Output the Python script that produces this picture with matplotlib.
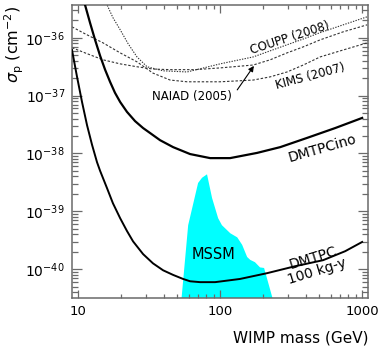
import numpy as np
import matplotlib
matplotlib.use("Agg")
import matplotlib.pyplot as plt
from matplotlib.ticker import LogLocator, FixedLocator, NullFormatter

# WIMP mass (GeV) and log10(sigma_p / cm^2)
ino_mass = [11.2, 12.15, 13.18, 14.3, 15.5, 16.8, 18.2, 19.8, 22.1, 25.2, 28.7, 32.1,
            37.8, 46.7, 61.5, 85.1, 117.5, 182, 265, 410, 646, 1000]
ino_logs = [-35.43, -35.74, -36.035, -36.31, -36.55, -36.76, -36.95, -37.11, -37.28,
            -37.44, -37.56, -37.645, -37.77, -37.89, -38.01, -38.08, -38.08, -37.99,
            -37.89, -37.73, -37.56, -37.385]

full_mass = [9.07, 9.84, 10.67, 11.57, 12.55, 13.6, 14.3, 16.0, 17.6, 19.8, 22.1, 24.4,
             28.7, 33.7, 39.7, 46.7, 54.9, 61.5, 72.3, 92.2, 138, 214, 337, 531, 759, 1000]
full_logs = [-36.21, -36.675, -37.11, -37.51, -37.85, -38.15, -38.30, -38.60, -38.86,
             -39.12, -39.34, -39.52, -39.74, -39.90, -40.02, -40.10, -40.17, -40.21,
             -40.225, -40.225, -40.17, -40.07, -39.95, -39.845, -39.69, -39.53]

kims_mass = [9.07, 11.2, 15.0, 19.8, 26.0, 33.7, 44.5, 58.6, 100, 171, 225, 296, 385,
             506, 735, 1084]
kims_logs = [-35.81, -35.93, -36.087, -36.26, -36.415, -36.61, -36.73, -36.76, -36.76,
             -36.73, -36.675, -36.59, -36.47, -36.33, -36.21, -36.087]

naiad_mass = [9.07, 11.2, 15.0, 19.8, 26.0, 33.7, 44.5, 66.7, 100, 171, 225, 296, 385,
              506, 735, 1084]
naiad_logs = [-36.17, -36.26, -36.38, -36.45, -36.50, -36.54, -36.55, -36.55, -36.52,
              -36.47, -36.38, -36.26, -36.156, -36.035, -35.896, -35.775]

coupp_mass = [15.6, 16.0, 17.6, 19.8, 22.5, 26.0, 30.6, 39.7, 58.6, 100, 171, 225, 296,
              385, 506, 735, 1084]
coupp_logs = [-35.35, -35.43, -35.65, -35.86, -36.10, -36.33, -36.50, -36.57, -36.59,
              -36.45, -36.33, -36.225, -36.12, -36.02, -35.91, -35.775, -35.636]

mssm_mass = [53.1, 59.6, 70.0, 74.6, 80.9, 87.8, 96.9, 103, 118, 132, 143, 155, 163,
             176, 191, 204, 240]
mssm_logs = [-40.6, -39.24, -38.51, -38.42, -38.36, -38.77, -39.12, -39.24, -39.38,
             -39.45, -39.58, -39.79, -39.84, -39.88, -39.97, -39.98, -40.6]

x_ticks = [10, 100, 1000]
x_labels = ["10", "100", "1000"]
y_exps = [-40, -39, -38, -37, -36]

gray = "#6a6a6a"

fig = plt.figure(figsize=(3.81, 3.49), dpi=100)
ax = fig.add_axes([0.189, 0.146, 0.777, 0.840])

ax.fill(mssm_mass, 10.0 ** np.array(mssm_logs), color="#00ffff", lw=0, zorder=1)

ax.plot(ino_mass, 10.0 ** np.array(ino_logs), color="black", lw=1.6, zorder=3)
ax.plot(full_mass, 10.0 ** np.array(full_logs), color="black", lw=1.4, zorder=3)
ax.plot(kims_mass, 10.0 ** np.array(kims_logs), color="#333333", lw=0.8,
        dashes=(2.2, 1.6), zorder=2)
ax.plot(naiad_mass, 10.0 ** np.array(naiad_logs), color="#333333", lw=0.8,
        dashes=(2.2, 1.6), zorder=2)
ax.plot(coupp_mass, 10.0 ** np.array(coupp_logs), color="#333333", lw=0.8,
        dashes=(1.2, 1.2), zorder=2)

ax.set_xscale("log")
ax.set_yscale("log")
ax.set_xlim(9.07, 1100)
ax.set_ylim(10 ** -40.50, 10 ** -35.43)

ax.xaxis.set_major_locator(FixedLocator(x_ticks))
ax.set_xticklabels(x_labels)
ax.xaxis.set_minor_locator(LogLocator(base=10, subs=np.arange(2, 10), numticks=20))
ax.xaxis.set_minor_formatter(NullFormatter())
ax.yaxis.set_major_locator(FixedLocator([10.0 ** e for e in y_exps]))
ax.set_yticklabels([r"$10^{%d}$" % e for e in y_exps])
ax.yaxis.set_minor_locator(LogLocator(base=10, subs=np.arange(2, 10), numticks=20))
ax.yaxis.set_minor_formatter(NullFormatter())

ax.tick_params(which="both", direction="in", top=True, right=True, color=gray, width=0.9)
ax.tick_params(axis="x", which="major", length=6, labelsize=9.5, pad=5)
ax.tick_params(axis="x", which="minor", length=3)
ax.tick_params(axis="y", which="major", length=7.5, labelsize=10, pad=5)
ax.tick_params(axis="y", which="minor", length=4.5)
for s in ax.spines.values():
    s.set_color(gray)
    s.set_linewidth(1.1)

ax.set_xlabel("WIMP mass (GeV)", fontsize=11, loc="right", labelpad=9)
ax.set_ylabel(r"$\sigma_{\rm p}$ (cm$^{-2}$)", fontsize=11.5)
ax.yaxis.set_label_coords(-0.155, 0.865)

ax.text(311, 10 ** -36.0, "COUPP (2008)", fontsize=8.5, rotation=18,
        ha="center", va="center")
ax.text(430, 10 ** -36.66, "KIMS (2007)", fontsize=8.5, rotation=15,
        ha="center", va="center")
ax.text(63.5, 10 ** -37.02, "NAIAD (2005)", fontsize=8.5, ha="center", va="center")
ax.annotate("", xy=(173, 10 ** -36.485), xytext=(132, 10 ** -36.90),
            arrowprops=dict(arrowstyle="-|>", color="black", lw=0.8,
                            mutation_scale=8, shrinkA=0, shrinkB=0))
ax.text(523, 10 ** -37.905, "DMTPCino", fontsize=10, rotation=16,
        ha="center", va="center")
ax.text(467, 10 ** -39.93, "DMTPC\n100 kg-y", fontsize=10, rotation=17,
        ha="center", va="center", linespacing=1.0)
ax.text(89.3, 10 ** -39.74, "MSSM", fontsize=10.5, ha="center", va="center")

fig.savefig("out.png", dpi=100)
